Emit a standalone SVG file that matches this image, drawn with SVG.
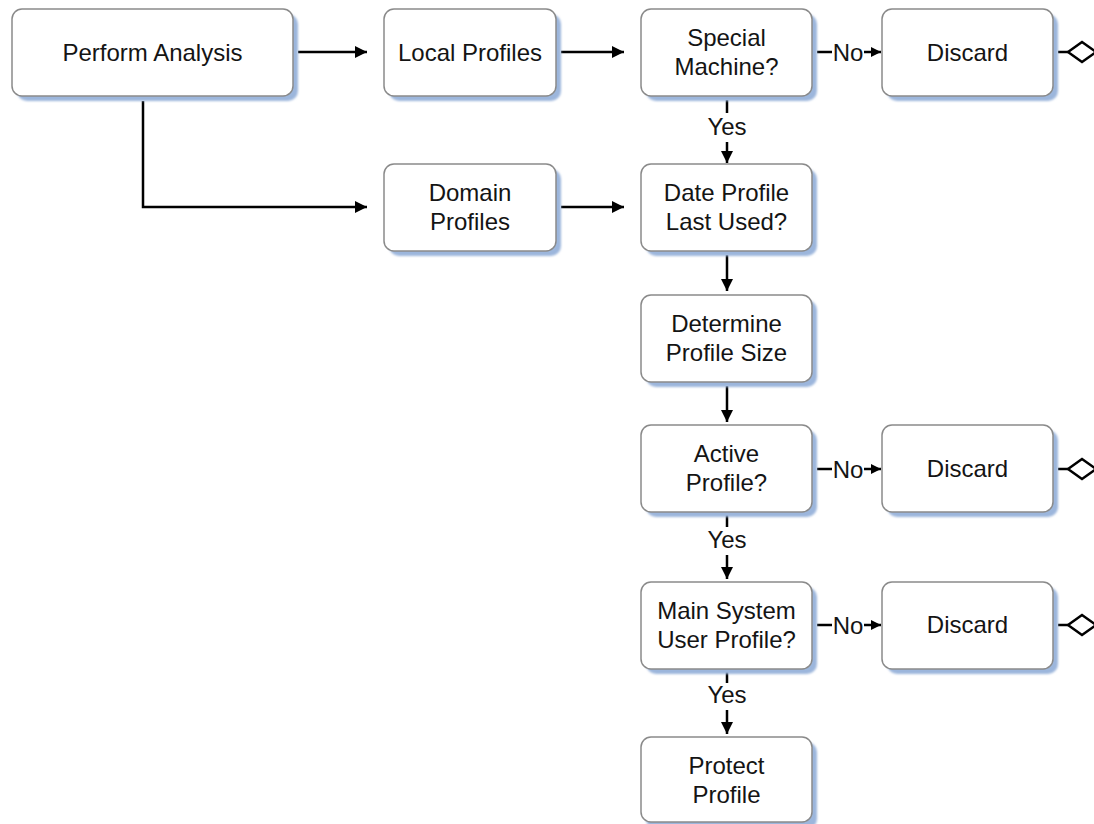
<svg xmlns="http://www.w3.org/2000/svg" width="1094" height="824" viewBox="0 0 1094 824">
<defs>
<marker id="arr" viewBox="0 0 10 10" refX="10" refY="5" markerWidth="12" markerHeight="12" markerUnits="userSpaceOnUse" orient="auto">
<path d="M0,0 L10,5 L0,10 Z" fill="#000"/>
</marker>
<marker id="arrs" viewBox="0 0 10 10" refX="10" refY="5" markerWidth="10" markerHeight="10" markerUnits="userSpaceOnUse" orient="auto">
<path d="M0,0 L10,5 L0,10 Z" fill="#000"/>
</marker>
<filter id="blur" x="-5%" y="-5%" width="110%" height="110%"><feGaussianBlur stdDeviation="0.8"/></filter>
</defs>
<style>
.sh{fill:#9cb6dc;filter:url(#blur)}
.bx{fill:#fff;stroke:#8a8a8a;stroke-width:1.5}
.t{font-family:"Liberation Sans",Arial,sans-serif;font-size:24px;fill:#141414;text-anchor:middle}
.l{font-family:"Liberation Sans",Arial,sans-serif;font-size:24px;fill:#141414;text-anchor:middle}
.c{fill:none;stroke:#000;stroke-width:2.5}
.a{marker-end:url(#arr)}
.as{marker-end:url(#arrs)}
.d{fill:#fff;stroke:#000;stroke-width:2.5}
</style>
<rect width="1094" height="824" fill="#fff"/>

<g id="connectors">
<path class="c a" d="M298,52 H367"/>
<path class="c a" d="M561,52 H624"/>
<path class="c a" d="M143,101 V207 H367"/>
<path class="c a" d="M561,207 H624"/>
<path class="c" d="M817,52 H832"/>
<text class="l" x="848" y="61">No</text>
<path class="c as" d="M864,52 H881"/>
<path class="c" d="M1058,52 H1068"/>
<path class="d" d="M1068,52 L1082,42 L1096,52 L1082,62 Z"/>
<path class="c" d="M727,100 V113"/>
<text class="l" x="727" y="135">Yes</text>
<path class="c a" d="M727,142 V163"/>
<path class="c a" d="M727,255 V291"/>
<path class="c a" d="M727,386 V422"/>
<path class="c" d="M817,469 H832"/>
<text class="l" x="848" y="478">No</text>
<path class="c as" d="M864,469 H881"/>
<path class="c" d="M1058,469 H1068"/>
<path class="d" d="M1068,469 L1082,459 L1096,469 L1082,479 Z"/>
<path class="c" d="M727,515 V527"/>
<text class="l" x="727" y="548">Yes</text>
<path class="c a" d="M727,555 V579"/>
<path class="c" d="M817,625 H832"/>
<text class="l" x="848" y="634">No</text>
<path class="c as" d="M864,625 H881"/>
<path class="c" d="M1058,625 H1068"/>
<path class="d" d="M1068,625 L1082,615 L1096,625 L1082,635 Z"/>
<path class="c" d="M727,672 V683"/>
<text class="l" x="727" y="703">Yes</text>
<path class="c a" d="M727,710 V734"/>
</g>

<g id="perform-analysis">
<rect class="sh" x="17" y="14" width="281" height="87" rx="10"/>
<rect class="bx" x="12" y="9" width="281" height="87" rx="10"/>
<text class="t" x="152.5" y="61">Perform Analysis</text>
</g>
<g id="local-profiles">
<rect class="sh" x="389" y="14" width="172" height="87" rx="10"/>
<rect class="bx" x="384" y="9" width="172" height="87" rx="10"/>
<text class="t" x="470" y="61">Local Profiles</text>
</g>
<g id="special-machine">
<rect class="sh" x="646" y="14" width="171" height="87" rx="10"/>
<rect class="bx" x="641" y="9" width="171" height="87" rx="10"/>
<text class="t" x="726.5" y="46">Special</text>
<text class="t" x="726.5" y="75">Machine?</text>
</g>
<g id="discard-1">
<rect class="sh" x="887" y="14" width="171" height="87" rx="10"/>
<rect class="bx" x="882" y="9" width="171" height="87" rx="10"/>
<text class="t" x="967.5" y="61">Discard</text>
</g>
<g id="domain-profiles">
<rect class="sh" x="389" y="169" width="172" height="87" rx="10"/>
<rect class="bx" x="384" y="164" width="172" height="87" rx="10"/>
<text class="t" x="470" y="201">Domain</text>
<text class="t" x="470" y="230">Profiles</text>
</g>
<g id="date-profile">
<rect class="sh" x="646" y="169" width="171" height="87" rx="10"/>
<rect class="bx" x="641" y="164" width="171" height="87" rx="10"/>
<text class="t" x="726.5" y="201">Date Profile</text>
<text class="t" x="726.5" y="230">Last Used?</text>
</g>
<g id="determine-size">
<rect class="sh" x="646" y="300" width="171" height="87" rx="10"/>
<rect class="bx" x="641" y="295" width="171" height="87" rx="10"/>
<text class="t" x="726.5" y="332">Determine</text>
<text class="t" x="726.5" y="361">Profile Size</text>
</g>
<g id="active-profile">
<rect class="sh" x="646" y="430" width="171" height="87" rx="10"/>
<rect class="bx" x="641" y="425" width="171" height="87" rx="10"/>
<text class="t" x="726.5" y="462">Active</text>
<text class="t" x="726.5" y="491">Profile?</text>
</g>
<g id="discard-2">
<rect class="sh" x="887" y="430" width="171" height="87" rx="10"/>
<rect class="bx" x="882" y="425" width="171" height="87" rx="10"/>
<text class="t" x="967.5" y="477">Discard</text>
</g>
<g id="main-system">
<rect class="sh" x="646" y="587" width="171" height="87" rx="10"/>
<rect class="bx" x="641" y="582" width="171" height="87" rx="10"/>
<text class="t" x="726.5" y="619">Main System</text>
<text class="t" x="726.5" y="648">User Profile?</text>
</g>
<g id="discard-3">
<rect class="sh" x="887" y="587" width="171" height="87" rx="10"/>
<rect class="bx" x="882" y="582" width="171" height="87" rx="10"/>
<text class="t" x="967.5" y="633">Discard</text>
</g>
<g id="protect-profile">
<rect class="sh" x="646" y="742" width="171" height="87" rx="10"/>
<rect class="bx" x="641" y="737" width="171" height="85" rx="10"/>
<text class="t" x="726.5" y="774">Protect</text>
<text class="t" x="726.5" y="803">Profile</text>
</g>
</svg>
